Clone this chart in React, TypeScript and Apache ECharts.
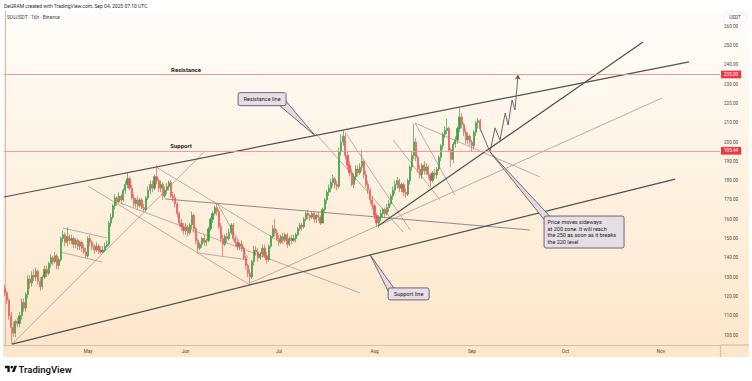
import React, { useEffect, useRef } from 'react';
import * as echarts from 'echarts';

// ---------- data ----------
const startTimeUTC = Date.UTC(2025, 3, 4, 8, 0, 0); // first 16h candle
const barHours = 16;
const totalSlots = 345; // candles + future space
const monthNames = ['Jan', 'Feb', 'Mar', 'Apr', 'May', 'Jun', 'Jul', 'Aug', 'Sep', 'Oct', 'Nov', 'Dec'];

const firstOpen = 124;
const closes = [
  122, 118, 110, 104, 101, 107, 106, 110, 117, 114,
  121, 129, 127, 131, 130, 133, 128, 125, 130, 134,
  132, 137, 140, 138, 141, 136, 139, 150, 152, 148,
  151, 149, 150, 147, 149, 146, 148, 145, 143, 141,
  150, 148, 146, 144, 146, 144, 143, 144, 146, 147,
  158, 161, 167, 171, 169, 172, 170, 175, 178, 181,
  176, 171, 168, 170, 167, 170, 166, 165, 171, 175,
  178, 176, 182, 180, 176, 178, 172, 175, 177, 179,
  172, 171, 168, 163, 158, 156, 154, 156, 153, 157,
  162, 155, 149, 145, 147, 150, 148, 149, 155, 160,
  163, 166, 164, 156, 150, 147, 151, 150, 153, 157,
  150, 148, 146, 147, 145, 140, 136, 132, 130, 138,
  144, 143, 140, 142, 145, 141, 139, 146, 151, 155,
  153, 150, 148, 151, 149, 152, 147, 150, 149, 150,
  152, 155, 157, 156, 160, 163, 162, 161, 163, 160,
  162, 161, 158, 165, 170, 174, 176, 179, 181, 178,
  177, 195, 200, 203, 193, 188, 184, 178, 182, 186,
  184, 187, 190, 183, 178, 175, 170, 167, 162, 158,
  161, 163, 165, 163, 166, 168, 172, 175, 178, 180,
  176, 178, 174, 173, 180, 187, 193, 200, 192, 186,
  183, 188, 185, 187, 183, 180, 184, 183, 186, 192,
  198, 204, 206, 207, 196, 191, 199, 201, 207, 213,
  209, 205, 201, 203, 200, 198, 205, 210, 211, 206.85,
];
const highs = [
  126, 123, 119, 112, 107, 108, 109, 112, 119, 119,
  122, 131, 131, 133, 134, 135, 134, 130, 131, 136,
  136, 138, 142, 141, 143, 142, 140, 151, 154, 153,
  156, 152, 152, 151, 150, 150, 149, 149, 147, 145,
  151, 152, 149, 147, 148, 147, 146, 146, 148, 149,
  159, 163, 168, 173, 172, 174, 173, 176, 180, 184,
  182, 178, 173, 171, 172, 171, 171, 168, 172, 177,
  180, 180, 183, 188, 181, 180, 179, 177, 179, 180,
  180, 174, 173, 169, 164, 160, 158, 158, 157, 158,
  164, 163, 156, 150, 148, 151, 152, 150, 156, 161,
  164, 167, 168, 165, 158, 152, 152, 153, 155, 158,
  158, 151, 150, 148, 149, 146, 141, 137, 134, 139,
  146, 146, 145, 143, 147, 147, 143, 147, 152, 157,
  160, 155, 152, 152, 153, 153, 153, 151, 152, 152,
  153, 156, 158, 158, 161, 164, 165, 163, 164, 164,
  163, 164, 162, 166, 171, 175, 178, 181, 183, 182,
  180, 197, 204, 206, 204, 195, 190, 186, 184, 188,
  188, 189, 196, 191, 185, 180, 176, 172, 168, 163,
  162, 165, 166, 166, 168, 170, 173, 177, 180, 182,
  181, 179, 179, 176, 181, 188, 195, 209.5, 202, 193,
  188, 189, 190, 189, 188, 184, 185, 186, 187, 193,
  199, 205, 208, 212, 208, 197, 200, 203, 208, 217.6,
  215, 210, 207, 205, 204, 201, 206, 211, 212.5, 212,
];
const lows = [
  120, 116, 108, 95.3, 99, 99, 104, 104, 108, 112,
  112, 119, 124, 125, 128, 128, 126, 123, 124, 129,
  130, 131, 135, 136, 137, 134, 134, 138, 148, 146,
  146, 147, 147, 145, 145, 144, 144, 143, 142, 140,
  140, 146, 144, 142, 143, 142, 142, 142.5, 143, 145,
  146, 156, 160, 165, 167, 168, 168, 169, 173, 176,
  175, 170, 166, 166, 165, 166, 165, 164, 164, 170,
  173, 174, 175, 178, 174, 174, 170, 171, 173, 175,
  171, 169, 166, 161, 156, 154, 152, 152, 151, 152,
  155, 153, 147, 142.5, 144, 145, 146, 146, 148, 154,
  158, 162, 162, 155, 148, 141, 146, 148, 149, 152,
  149, 146, 144, 144, 143, 139, 134, 130, 126.5, 129,
  136, 141, 138, 139, 140, 140, 137, 138, 145, 150,
  151, 149, 146, 147, 147, 148, 145, 146, 147, 148,
  148, 151, 154, 154, 155, 159, 160, 159, 160, 158,
  158, 159, 157, 158, 164, 168, 172, 174, 177, 176,
  175, 176, 193, 198, 191, 186, 182, 177, 176, 180,
  182, 183, 185, 181, 176, 173, 168, 165, 160, 156,
  155.5, 159, 161, 161, 162, 164, 167, 170, 173, 176,
  174, 174, 172, 171, 172, 178, 185, 191, 190, 184,
  181, 181, 183, 183, 181, 177, 179, 181, 181, 185,
  190, 196, 202, 204, 195, 187, 189, 197, 199, 205,
  207, 203, 199, 199, 198, 195, 196, 203, 207, 205.5,
];

const yMin = 94.82;
const yMax = 267.88;

const resistanceLevel = 235.0;
const supportLevel = 195.44;
const lastPrice = 206.85;
const lastPriceTimer = '08:49:53';

// drawings, as [candle index, price]
const channelLines = [
  [[-0.5, 171.5], [329.6, 241.5]],
  [[3.4, 95.3], [322.9, 180.8]],
  [[179.7, 156.5], [307.4, 251.8]],
];
const midLines = [
  [[77.1, 170.5], [253, 154.4]],
];
const thinLines = [
  [[3.4, 95.3], [96.4, 195.3]],
  [[40, 177.2], [118.1, 125.9]],
  [[72.8, 187], [132.5, 148.2]],
  [[102.2, 168.4], [117.1, 139.9]],
  [[93, 142.5], [117.1, 138.9]],
  [[27.9, 155.4], [49.1, 150.3]],
  [[26.5, 143], [46.7, 137.8]],
  [[55.4, 168.4], [171.1, 121.8]],
  [[118.1, 126.9], [316.6, 222.8]],
  [[149.4, 204.7], [191.8, 153.4]],
  [[163.8, 205.2], [195.2, 154.4]],
  [[197.6, 209.8], [257.8, 181.9]],
  [[197.6, 209.8], [216.8, 172.5]],
  [[187, 201], [209.6, 170]],
];
const forecastPath = [
  [229, 206.85], [233.7, 194.8], [236.1, 207.3], [238.5, 201], [241, 215],
  [242.4, 208.8], [244.3, 221.8], [245.7, 216.6],
];
const forecastArrow = [[245.7, 216.6], [247.2, 234.7]];

const levelTexts = [
  { text: 'Resistance', at: [87.2, resistanceLevel] },
  { text: 'Support', at: [84.8, supportLevel] },
];
const calloutTexts = [
  { lines: ['Resistance line'], at: [149.4, 203.3] },
  { lines: ['Support line'], at: [175.9, 141.5] },
  {
    lines: ['Price moves sideways', 'at 200 zone. It will reach', 'the 250 as soon as it breaks', 'the 220 level'],
    at: [233.7, 194.8],
  },
];
// layout of the callout boxes relative to their anchor (pixels)
const calloutLayout = [
  { dx: -77, dy: -43, w: 48, h: 13, corner: 'br' },
  { dx: 18, dy: 33, w: 41, h: 12, corner: 'tl' },
  { dx: 54, dy: 64, w: 80, h: 32, corner: 'tl' },
];

const headerText = 'DeGRAM created with TradingView.com, Sep 04, 2025 07:10 UTC';
const symbolText = 'SOLUSDT · 16h · Binance';
const currencyText = 'USDT';
const brandText = 'TradingView';

const TV_LOGO = 'M14 22H7V11H0V4h14v18zM28 22h-8l7.5-18h8L28 22zM24 8a4 4 0 1 1-8 0a4 4 0 1 1 8 0z';
echarts.graphic.registerShape('tvlogo', echarts.graphic.extendPath(TV_LOGO, {}));

// ---------- helpers ----------
const FONT = 'Roboto, "Noto Sans", sans-serif';
const UP = '#3c9d45';
const DOWN = '#ee5656';

function buildSlots() {
  const labels: string[] = [];
  const monthStarts = new Set<number>();
  let prevMonth = -1;
  for (let i = 0; i < totalSlots; i++) {
    const d = new Date(startTimeUTC + i * barHours * 3600 * 1000);
    const m = d.getUTCMonth();
    labels.push(
      `${d.getUTCFullYear()}-${String(m + 1).padStart(2, '0')}-${String(d.getUTCDate()).padStart(2, '0')} ${String(d.getUTCHours()).padStart(2, '0')}:00`
    );
    if (i > 0 && m !== prevMonth) monthStarts.add(i);
    prevMonth = m;
  }
  return { labels, monthStarts };
}

function buildOption() {
  const { labels, monthStarts } = buildSlots();
  const candles = closes.map((c, i) => {
    const o = i === 0 ? firstOpen : closes[i - 1];
    return [o, c, lows[i], highs[i]];
  });
  const lineSeries = (list: number[][][], color: string, width: number) => ({
    type: 'lines',
    coordinateSystem: 'cartesian2d',
    xAxisIndex: 1,
    yAxisIndex: 0,
    silent: true,
    clip: true,
    z: 3,
    lineStyle: { color, width, opacity: 1 },
    data: list.map((coords) => ({ coords })),
  });
  const axisLabelStyle = { color: '#4a4a4a', fontSize: 4.6, fontFamily: FONT };
  return {
    animation: false,
    textStyle: { fontFamily: FONT },
    grid: { left: 4, right: 32, top: 11, bottom: 36 },
    xAxis: [
      {
        type: 'category',
        data: labels,
        boundaryGap: true,
        axisLine: { show: true, lineStyle: { color: '#c9c1b8', width: 1.2 } },
        axisTick: { show: false },
        splitLine: { show: false },
        axisLabel: {
          ...axisLabelStyle,
          margin: 4,
          interval: (idx: number) => monthStarts.has(idx),
          formatter: (v: string) => monthNames[Number(v.slice(5, 7)) - 1],
        },
      },
      { type: 'value', min: -0.5, max: totalSlots - 0.5, show: false },
    ],
    yAxis: {
      type: 'value',
      position: 'right',
      min: yMin,
      max: yMax,
      splitNumber: 17,
      axisLine: { show: true, lineStyle: { color: '#c9c1b8', width: 1.2 } },
      axisTick: { show: false },
      splitLine: { show: false },
      axisLabel: {
        ...axisLabelStyle,
        margin: 4,
        showMinLabel: false,
        showMaxLabel: false,
        formatter: (v: number) => (Math.abs(v / 10 - Math.round(v / 10)) < 1e-6 ? v.toFixed(2) : ''),
      },
    },
    series: [
      lineSeries(thinLines, '#a39e99', 0.8),
      lineSeries(midLines, '#858080', 0.9),
      {
        type: 'candlestick',
        xAxisIndex: 0,
        yAxisIndex: 0,
        barWidth: '80%',
        z: 4,
        itemStyle: { color: UP, color0: DOWN, borderColor: UP, borderColor0: DOWN, borderWidth: 0.7 },
        data: candles,
        markLine: {
          silent: true,
          symbol: 'none',
          precision: 2,
          data: [
            {
              yAxis: resistanceLevel,
              lineStyle: { color: '#f58d90', width: 0.9, type: 'solid' },
              label: {
                position: 'end', distance: 1, formatter: resistanceLevel.toFixed(2),
                backgroundColor: '#f23645', color: '#fff', fontSize: 4.6, padding: [1.5, 3, 1.2, 3],
              },
            },
            {
              yAxis: supportLevel,
              lineStyle: { color: '#f58d90', width: 0.9, type: 'solid' },
              label: {
                position: 'end', distance: 1, formatter: supportLevel.toFixed(2),
                backgroundColor: '#f23645', color: '#fff', fontSize: 4.6, padding: [1.5, 3, 1.2, 3],
              },
            },
            {
              yAxis: lastPrice,
              lineStyle: { color: '#2962ff', width: 0.5, opacity: 0 },
              label: {
                position: 'end', distance: 1, offset: [0, 3.2],
                formatter: `${lastPrice.toFixed(2)}\n${lastPriceTimer}`,
                backgroundColor: '#2962ff', color: '#fff', fontSize: 4.6, lineHeight: 5.6,
                padding: [0.6, 3, 0.6, 3],
              },
            },
          ],
        },
      },
      lineSeries(channelLines, '#505050', 1.2),
      { ...lineSeries([forecastPath], '#5a5a5a', 0.9), polyline: true },
      {
        ...lineSeries([forecastArrow], '#5a5a5a', 0.9),
        symbol: ['none', 'arrow'],
        symbolSize: 4.5,
      },
    ],
  };
}

function buildGraphics(chart: any) {
  const toPx = (pt: number[]) => chart.convertToPixel({ xAxisIndex: 1, yAxisIndex: 0 }, pt) as number[];
  const g: any[] = [];
  g.push({
    type: 'rect', z: -10, silent: true,
    shape: { x: 3, y: 11, width: 746, height: 346 },
    style: {
      fill: new echarts.graphic.LinearGradient(0, 0, 0, 1, [
        { offset: 0, color: '#fffdf9' },
        { offset: 1, color: '#fde6c9' },
      ]),
    },
  });
  g.push({ type: 'line', z: 1, silent: true, shape: { x1: 720.5, y1: 345, x2: 720.5, y2: 357 }, style: { stroke: '#c9c1b8', lineWidth: 1.2 } });
  g.push({ type: 'line', z: 1, silent: true, shape: { x1: 720.5, y1: 345, x2: 749, y2: 345 }, style: { stroke: '#c9c1b8', lineWidth: 1.2 } });
  g.push({
    type: 'text', x: 4, y: 5.5, silent: true,
    style: { text: headerText, fill: '#2a2a2a', fontSize: 5, fontFamily: FONT, verticalAlign: 'middle' },
  });
  g.push({
    type: 'text', x: 7, y: 17, silent: true,
    style: { text: symbolText, fill: '#3d3d3d', fontSize: 4.8, fontFamily: FONT, verticalAlign: 'middle' },
  });
  g.push({
    type: 'rect', silent: true, z: 5,
    shape: { x: 724, y: 13, width: 22, height: 9, r: 1.5 },
    style: { fill: '#ffffff', stroke: '#e6e0da', lineWidth: 0.5 },
  });
  g.push({
    type: 'text', x: 735, y: 17.5, silent: true, z: 6,
    style: { text: currencyText, fill: '#333', fontSize: 4.6, fontFamily: FONT, align: 'center', verticalAlign: 'middle' },
  });
  g.push({ type: 'tvlogo', x: 5, y: 364.5, scaleX: 0.34, scaleY: 0.34, silent: true, style: { fill: '#131722' } });
  g.push({
    type: 'text', x: 18.5, y: 369, silent: true,
    style: { text: brandText, fill: '#131722', fontSize: 9.5, fontWeight: 600, fontFamily: FONT, verticalAlign: 'middle' },
  });

  levelTexts.forEach((t) => {
    const [x, y] = toPx(t.at);
    g.push({
      type: 'text', x, y: y - 2, z: 20, silent: true,
      style: { text: t.text, fill: '#1c1c1c', fontSize: 6, fontWeight: 'bold', fontFamily: FONT, align: 'center', verticalAlign: 'bottom' },
    });
  });

  calloutTexts.forEach((c, k) => {
    const L = calloutLayout[k];
    const [ax, ay] = toPx(c.at);
    const bx = ax + L.dx;
    const by = ay + L.dy;
    let base: number[][];
    if (L.corner === 'br') base = [[bx + L.w - 7, by + L.h - 0.5], [bx + L.w - 0.5, by + L.h - 5]];
    else base = [[bx + 0.5, by + 4], [bx + 6, by + 0.5]];
    g.push({
      type: 'polygon', z: 30, silent: true,
      shape: { points: [base[0], [ax, ay], base[1]] },
      style: { fill: '#e4d9e1', stroke: '#4f4a57', lineWidth: 0.8 },
    });
    g.push({
      type: 'rect', z: 31, silent: true,
      shape: { x: bx, y: by, width: L.w, height: L.h, r: 2 },
      style: { fill: '#e7dde5', stroke: '#5d5666', lineWidth: 0.9 },
    });
    const multi = c.lines.length > 1;
    g.push({
      type: 'text', z: 32, silent: true,
      x: multi ? bx + 3.5 : bx + L.w / 2,
      y: by + L.h / 2,
      style: {
        text: c.lines.join('\n'), fill: '#222', fontSize: 5.5, lineHeight: 6.8, fontFamily: FONT,
        align: multi ? 'left' : 'center', verticalAlign: 'middle',
      },
    });
  });
  return g;
}

export default function App() {
  const ref = useRef<HTMLDivElement>(null);
  useEffect(() => {
    document.body.style.margin = '0';
    document.body.style.background = '#ffffff';
    const chart = echarts.init(ref.current as HTMLDivElement, null, { renderer: 'svg' });
    chart.setOption(buildOption() as any);
    chart.setOption({ graphic: buildGraphics(chart) } as any);
    return () => chart.dispose();
  }, []);
  return <div ref={ref} style={{ width: 752, height: 381 }} />;
}
